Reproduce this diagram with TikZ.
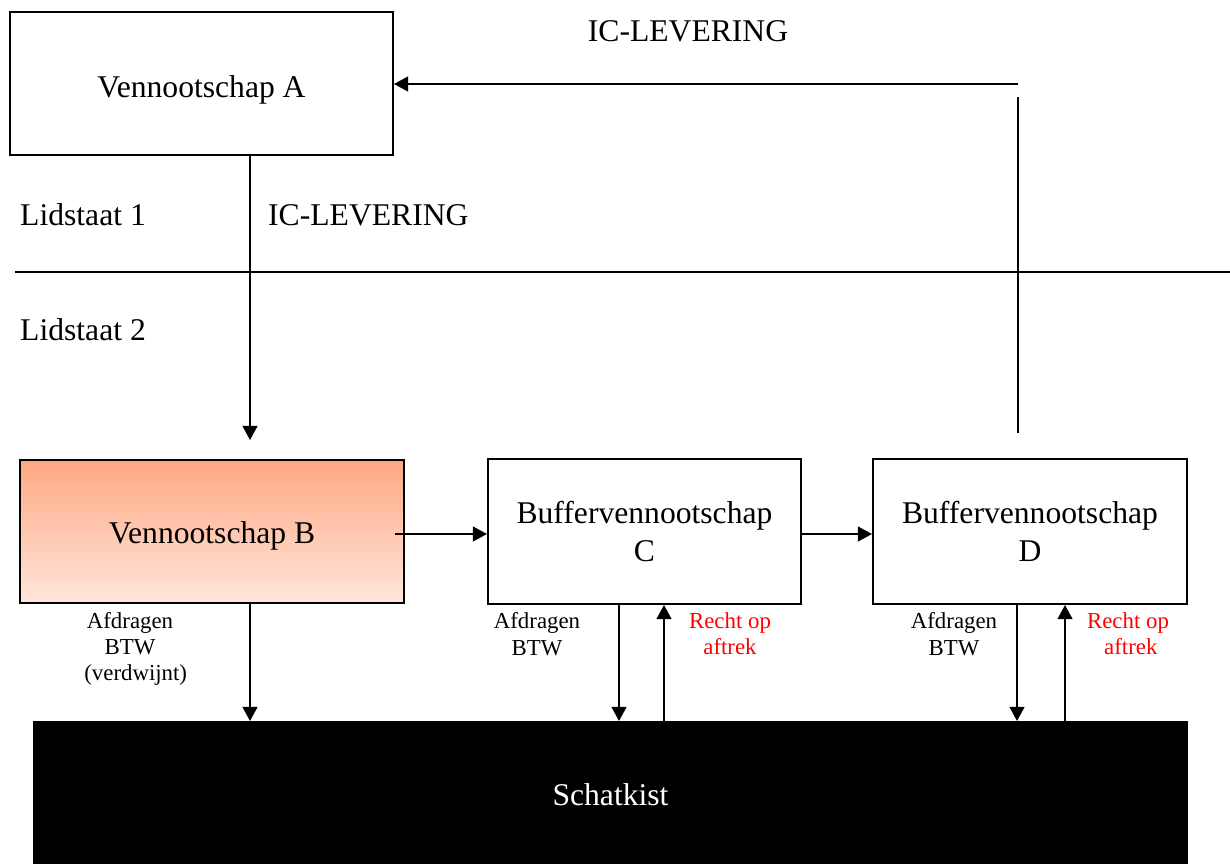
\documentclass[tikz,border=0pt]{standalone}
\usepackage{fontspec}
\setmainfont{Liberation Serif}
\usetikzlibrary{arrows.meta}

\definecolor{btop}{RGB}{255,168,130}
\definecolor{bbot}{RGB}{255,230,220}

\tikzset{
  box/.style={draw, line width=1.2pt, inner sep=0pt, align=center,
    font=\fontsize{18}{21.5}\selectfont},
  arr/.style={line width=0.8pt, -{Triangle[length=8pt,width=8.5pt]}},
  ln/.style={line width=0.8pt},
  big/.style={align=center, font=\fontsize{18}{21.5}\selectfont},
  lbl/.style={align=center, font=\fontsize{13}{15}\selectfont},
}

\begin{document}
\begin{tikzpicture}[x=0.02cm,y=-0.02cm]

\useasboundingbox (0,0) rectangle (1230,864);

% boxes
\node[box, minimum width=7.66cm, minimum height=2.86cm, text height=20pt, text depth=4pt] (A) at (201.5,83.5) {Vennootschap A};
\node[box, minimum width=7.68cm, minimum height=2.86cm, text height=18pt, text depth=4pt, top color=btop, bottom color=bbot] (B) at (212,531.5) {Vennootschap B};
\node[box, minimum width=6.26cm, minimum height=2.9cm] (C) at (644.5,531.5) {Buffervennootschap\\C};
\node[box, minimum width=6.28cm, minimum height=2.9cm] (D) at (1030,531.5) {Buffervennootschap\\D};
\node[box, fill=black, text=white, minimum width=23.06cm, minimum height=2.84cm, text height=18pt, text depth=4pt] (S) at (610.5,793) {Schatkist};

% texts
\node[big] (ic1) at (688,31) {IC-LEVERING};
\node[big, anchor=west] (ic2) at (262,215) {IC-LEVERING};
\node[big, anchor=west] (ls1) at (14,215) {Lidstaat 1};
\node[big, anchor=west] (ls2) at (14,330) {Lidstaat 2};

\node[lbl] (afB) at (130,649) {Afdragen\\BTW\\\ \ (verdwijnt)};
\node[lbl] (afC) at (537,634) {Afdragen\\BTW};
\node[lbl, text=red] (reC) at (730,634) {Recht op\\aftrek};
\node[lbl] (afD) at (954,634) {Afdragen\\BTW};
\node[lbl, text=red] (reD) at (1128,634) {Recht op\\\ aftrek};

% helper points
\coordinate (ab) at (250,440);
\coordinate (bc) at (395,534);
\coordinate (ret) at (1018,84);
\coordinate (dhigh) at (1018,97);
\coordinate (dlow) at (1018,433);
\coordinate (sepL) at (15,272);
\coordinate (sepR) at (1230,272);
\coordinate (xcd) at (619,660);
\coordinate (xcu) at (664,660);
\coordinate (xdd) at (1017,660);
\coordinate (xdu) at (1065,660);

% separator
\draw[ln] (sepL) -- (sepR);

% connectors
\draw[arr] (A.south -| ab) -- (ab);
\draw[ln] (dlow) -- (dhigh);
\draw[arr] (ret) -- (A.east |- ret);
\draw[arr] (bc) -- (C.west |- bc);
\draw[arr] (C.east |- bc) -- (D.west |- bc);

\draw[arr] (B.south -| ab) -- (S.north -| ab);
\draw[arr] (C.south -| xcd) -- (S.north -| xcd);
\draw[arr] (S.north -| xcu) -- (C.south -| xcu);
\draw[arr] (D.south -| xdd) -- (S.north -| xdd);
\draw[arr] (S.north -| xdu) -- (D.south -| xdu);

\end{tikzpicture}
\end{document}
